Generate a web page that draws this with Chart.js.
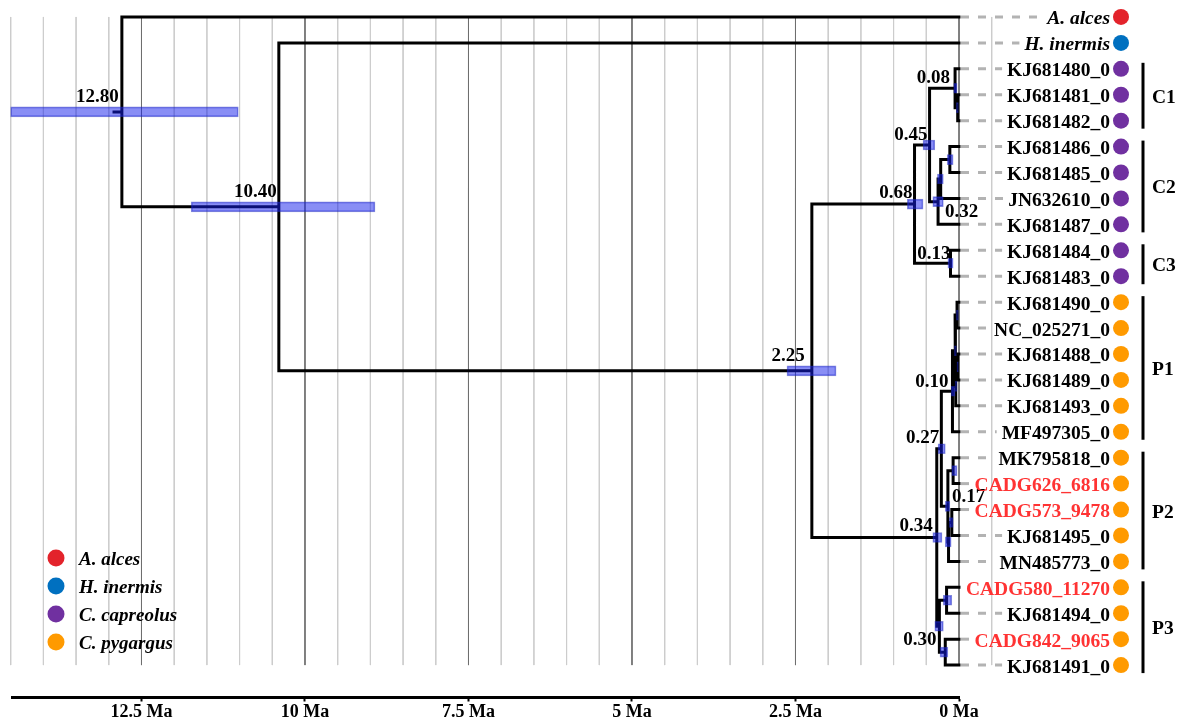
<!DOCTYPE html>
<html><head><meta charset="utf-8">
<script src="https://cdn.jsdelivr.net/npm/chart.js@4.4.1/dist/chart.umd.min.js"></script>
<style>html,body{margin:0;padding:0;background:#fff;}#wrap{width:1181px;height:724px;}</style>
</head><body><div id="wrap"><canvas id="c" width="1181" height="724"></canvas></div>
<script>
// ---- data ----
const tipLabels = ['A. alces','H. inermis','KJ681480_0','KJ681481_0','KJ681482_0','KJ681486_0','KJ681485_0','JN632610_0','KJ681487_0','KJ681484_0','KJ681483_0','KJ681490_0','NC_025271_0','KJ681488_0','KJ681489_0','KJ681493_0','MF497305_0','MK795818_0','CADG626_6816','CADG573_9478','KJ681495_0','MN485773_0','CADG580_11270','KJ681494_0','CADG842_9065','KJ681491_0'];
const tipSpecies = [0,1,2,2,2,2,2,2,2,2,2,3,3,3,3,3,3,3,3,3,3,3,3,3,3,3];
const tipNewSample = [0,0,0,0,0,0,0,0,0,0,0,0,0,0,0,0,0,0,1,1,0,0,1,0,1,0];
const speciesNames = ['A. alces','H. inermis','C. capreolus','C. pygargus'];

const nodeIds      = ['root','n1040','n225','n068','n045','c1','c1a','c2','c2b','c2a','c3','n034','n027','p1','p1b','p1c','p1f','p1d','p2','p2g','p2h','p2i','p3','p3j','p3k'];
const nodeChildren = [[0,'n1040'],[1,'n225'],['n068','n034'],['n045','c3'],['c1','c2'],[2,'c1a'],[3,4],['c2b',8],['c2a',7],[5,6],[9,10],['n027','p3'],['p1','p2'],['p1b',16],['p1c','p1f'],[11,12],['p1d',15],[13,14],['p2g','p2h'],[17,18],['p2i',21],[19,20],['p3j','p3k'],[22,23],[24,25]];
const nodeAges     = [12.80,10.40,2.25,0.68,0.45,0.06,0.02,0.32,0.28,0.14,0.13,0.34,0.27,0.10,0.06,0.03,0.05,0.02,0.17,0.09,0.16,0.11,0.30,0.19,0.21];
const nodeHpdLow   = [11.02,8.93,1.88,0.55,0.37,0.03,0.01,0.24,0.24,0.09,0.09,0.26,0.21,0.06,0.04,0.01,0.03,0.01,0.14,0.03,0.12,0.09,0.24,0.11,0.17];
const nodeHpdHigh  = [14.50,11.74,2.63,0.79,0.55,0.08,0.04,0.40,0.33,0.18,0.17,0.40,0.32,0.12,0.07,0.04,0.06,0.03,0.21,0.11,0.21,0.15,0.37,0.24,0.29];
const nodeLabels   = ['12.80','10.40','2.25','0.68','0.45','0.08','','0.32','','','0.13','0.34','0.27','0.10','','','','','0.17','','','','0.30','',''];
const rootStemAge = 12.92;

const cladeNames = ['C1','C2','C3','P1','P2','P3'];
const cladeFirstTip = [2,5,9,11,17,22];
const cladeLastTip  = [4,8,10,16,21,25];

const axisTicks = [12.5,10,7.5,5,2.5,0];
const gridValues = [14.5,14,13.5,13,12.5,12,11.5,11,10.5,10,9.5,9,8.5,8,7.5,7,6.5,6,5.5,5,4.5,4,3.5,3,2.5,2,1.5,1,0.5,0,-0.5];
const majorGrid = [12.5,10,7.5,5,2.5,0];

// ---- styles / layout ----
const speciesColors = ['#e3232b','#0070c0','#7030a0','#ff9a00'];
const FONT = '"Liberation Serif","Times New Roman",serif';
const labelPlace = { // dx, dy, align relative to node
  root:[-3,-10,'right'], n1040:[-2,-10,'right'], n225:[-7,-10,'right'], n068:[-2,-6,'right'],
  n045:[-2,-5,'right'], c1:[-5,-5,'right'], c2:[7,15,'left'], c3:[0,-4,'right'],
  n034:[-4,-6,'right'], n027:[-2,-6,'right'], p1:[-4,-4,'right'], p2:[4,-4,'left'], p3:[-3,19,'right']
};

// ---- build ----
const idx = {}; nodeIds.forEach((id,i)=>idx[id]=i);
const memo = {};
function yOf(r){ return typeof r==='number' ? r : nodeY(r); }
function ageOf(r){ return typeof r==='number' ? 0 : nodeAges[idx[r]]; }
function nodeY(id){
  if (memo[id]!==undefined) return memo[id];
  const ch = nodeChildren[idx[id]];
  const v = ch.reduce((s,c)=>s+yOf(c),0)/ch.length;
  memo[id]=v; return v;
}
const GAP = {x:null,y:null};
const branchPts = [];
nodeIds.forEach((id,i)=>{
  const ch = nodeChildren[i].slice().sort((a,b)=>yOf(a)-yOf(b));
  const a = ch[0], b = ch[ch.length-1], t = nodeAges[i];
  branchPts.push({x:ageOf(a),y:yOf(a)},{x:t,y:yOf(a)},{x:t,y:yOf(b)},{x:ageOf(b),y:yOf(b)},GAP);
});
branchPts.push({x:rootStemAge,y:nodeY('root')},{x:nodeAges[0],y:nodeY('root')},GAP);

const hpdData = nodeIds.map((id,i)=>({x:[nodeHpdLow[i],nodeHpdHigh[i]], y:nodeY(id)}));

const minorPts = [], majorPts = [];
gridValues.forEach(v=>{
  const arr = majorGrid.includes(v) ? majorPts : minorPts;
  arr.push({x:v,y:0},{x:v,y:tipLabels.length-1},GAP);
});

const treePlugin = {
  id:'tree',
  afterDatasetsDraw(chart){
    const ctx = chart.ctx, xs = chart.scales.x, ys = chart.scales.y, ca = chart.chartArea;
    ctx.save();
    // node labels
    ctx.font = 'bold 19px '+FONT; ctx.fillStyle='#000'; ctx.textBaseline='alphabetic';
    nodeIds.forEach((id,i)=>{
      if(!nodeLabels[i]) return;
      const p = labelPlace[id] || [-3,-6,'right'];
      ctx.textAlign = p[2];
      ctx.fillText(nodeLabels[i], xs.getPixelForValue(nodeAges[i])+p[0], ys.getPixelForValue(nodeY(id))+p[1]);
    });
    // tip labels, dashes, dots
    const x0 = xs.getPixelForValue(0);
    const textRight = ca.right + 151, dotX = ca.right + 162;
    tipLabels.forEach((lab,i)=>{
      const y = ys.getPixelForValue(i);
      const italic = tipSpecies[i] < 2;
      ctx.font = (italic?'italic ':'')+'bold 19.5px '+FONT;
      const w = ctx.measureText(lab).width;
      ctx.setLineDash([8,9]); ctx.lineWidth=3; ctx.strokeStyle='#b3b3b3'; ctx.lineCap='butt';
      ctx.beginPath(); ctx.moveTo(x0+2,y); ctx.lineTo(textRight-w-5,y); ctx.stroke();
      ctx.setLineDash([]);
      ctx.textAlign='right'; ctx.fillStyle = tipNewSample[i] ? '#ff3333' : '#000';
      ctx.fillText(lab, textRight, y+7.5);
      ctx.beginPath(); ctx.arc(dotX, y, 8, 0, Math.PI*2); ctx.fillStyle = speciesColors[tipSpecies[i]]; ctx.fill();
    });
    // clade bars
    const barX = ca.right + 184;
    ctx.strokeStyle='#000'; ctx.lineWidth=3; ctx.fillStyle='#000';
    ctx.font='bold 19.5px '+FONT; ctx.textAlign='left';
    cladeNames.forEach((n,k)=>{
      const y1 = ys.getPixelForValue(cladeFirstTip[k])-6, y2 = ys.getPixelForValue(cladeLastTip[k])+8;
      ctx.beginPath(); ctx.moveTo(barX,y1); ctx.lineTo(barX,y2); ctx.stroke();
      ctx.fillText(n, barX+9, (y1+y2)/2+7);
    });
    // legend
    ctx.font='italic bold 19px '+FONT;
    speciesNames.forEach((n,k)=>{
      const y = 558 + k*28;
      ctx.beginPath(); ctx.arc(56, y, 8.5, 0, Math.PI*2); ctx.fillStyle=speciesColors[k]; ctx.fill();
      ctx.fillStyle='#000'; ctx.fillText(n, 79, y+7);
    });
    ctx.restore();
  }
};

new Chart(document.getElementById('c'), {
  type:'line',
  data:{ datasets:[
    {type:'bar', indexAxis:'y', data:hpdData, backgroundColor:'rgba(20,30,235,0.5)', borderColor:'rgba(30,40,190,0.55)', borderWidth:1, borderSkipped:false, barThickness:10, grouped:false, clip:false, order:0},
    {data:branchPts, borderColor:'#000', borderWidth:3, pointRadius:0, borderJoinStyle:'miter', borderCapStyle:'square', tension:0, spanGaps:false, clip:false, order:1},
    {data:majorPts, borderColor:'#6e6e6e', borderWidth:1, pointRadius:0, spanGaps:false, clip:false, order:2},
    {data:minorPts, borderColor:'#cdcdcd', borderWidth:1, pointRadius:0, spanGaps:false, clip:false, order:3}
  ]},
  options:{
    responsive:false, animation:false, devicePixelRatio:1,
    layout:{padding:{left:12,right:222,top:4,bottom:0.5}},
    plugins:{legend:{display:false}, tooltip:{enabled:false}},
    scales:{
      x:{type:'linear', reverse:true, min:0, max:14.48, offset:false, beginAtZero:false,
         afterBuildTicks:(s)=>{ s.ticks = axisTicks.map(v=>({value:v})); },
         grid:{display:true, drawOnChartArea:false, drawTicks:true, tickLength:4, tickWidth:2, tickColor:'#000'},
         border:{display:true, color:'#000', width:3},
         ticks:{color:'#000', padding:2, maxRotation:0, autoSkip:false, font:{family:FONT, weight:'bold', size:18, lineHeight:1},
                callback:(v)=> v + ' Ma'}},
      y:{type:'linear', reverse:true, min:-0.5, max:26.25, display:false, offset:false}
    }
  },
  plugins:[treePlugin]
});
</script></body></html>
